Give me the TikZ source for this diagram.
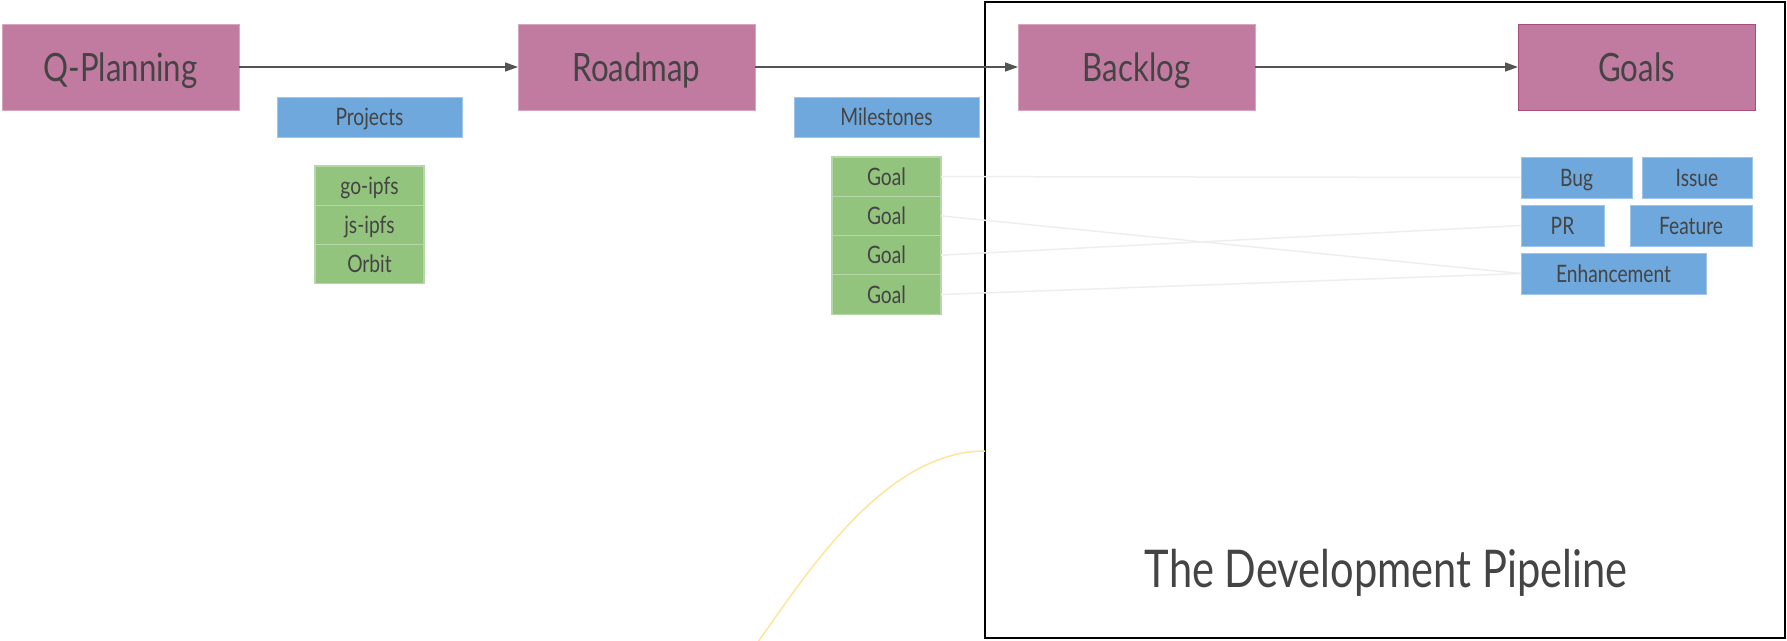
\documentclass[tikz,border=0pt]{standalone}
\usepackage{fontspec}
\setmainfont{Lato}[FakeStretch=0.8]
\usepackage{xcolor}
\usetikzlibrary{positioning, arrows.meta}

\definecolor{stagefill}{HTML}{C27BA0}
\definecolor{stageline}{HTML}{D5A6BD}
\definecolor{goalsline}{HTML}{A64D79}
\definecolor{tagfill}{HTML}{6FA8DC}
\definecolor{tagline}{HTML}{9FC5E8}
\definecolor{itemfill}{HTML}{93C47D}
\definecolor{itemline}{HTML}{B6D7A8}
\definecolor{labeltext}{HTML}{444444}
\definecolor{linkgray}{HTML}{EEEEEE}
\definecolor{curveyellow}{HTML}{FFE599}

\tikzset{
    stagebox/.style = {draw = stageline, fill = stagefill, line width = 1pt,
        minimum width = 237pt, minimum height = 86pt, inner sep = 0pt,
        outer sep = 0pt, text = labeltext, text height = 28pt,
        text depth = 0pt, font = \fontsize{39}{45}\selectfont},
    tagbox/.style = {draw = tagline, fill = tagfill, line width = 0.8pt,
        minimum height = 40pt, inner sep = 0pt, outer sep = 0pt,
        text = labeltext, text height = 17.5pt, text depth = 0pt,
        font = \fontsize{24}{28}\selectfont},
    itembox/.style = {draw = itemline, fill = itemfill, line width = 1.2pt,
        minimum width = 109pt, minimum height = 39.3pt, inner sep = 0pt,
        outer sep = 0pt, text = labeltext, text height = 17.5pt,
        text depth = 0pt, font = \fontsize{24}{28}\selectfont},
    flow/.style = {draw = black!67, line width = 1.5pt,
        -{Triangle[length = 13pt, width = 9pt]}},
    goallink/.style = {draw = linkgray, line width = 1.5pt},
}

\begin{document}
\begin{tikzpicture}[x = 1pt, y = -1pt]
    \useasboundingbox (0,0) rectangle (1787,640);
    % pipeline frame
    \node (pipeline) [draw, line width = 2pt, minimum width = 800pt,
    minimum height = 636pt, inner sep = 0pt, outer sep = 0pt,
    anchor = north west] at (985,2) {};
    \node (title) [anchor = base, text = labeltext,
    font = \fontsize{52}{60}\selectfont] at (1386,587)
    {The Development Pipeline};
    \coordinate (curvestart) at (752,650);
    \coordinate (curveend) at (985,451);
    \draw [curveyellow, line width = 1.5pt] (curvestart) .. controls
    (800,585) and (880,451) .. (curveend);

    % stages
    \node (qplan) [stagebox] at (120.5,67) {Q-Planning};
    \node (roadmap) [stagebox] at (636.5,67) {Roadmap};
    \node (backlog) [stagebox] at (1136.5,67) {Backlog};
    \node (goals) [stagebox, draw = goalsline] at (1636.5,67) {Goals};
    \draw [flow] (qplan) -- (roadmap);
    \draw [flow] (roadmap) -- (backlog);
    \draw [flow] (backlog) -- (goals);

    % projects
    \node (projects) [tagbox, minimum width = 185pt] at (369.5,117)
    {Projects};
    \node (goipfs) [itembox] at (369.5,185.6) {go-ipfs};
    \node (jsipfs) [itembox, below = 0pt of goipfs] {js-ipfs};
    \node (orbit) [itembox, below = 0pt of jsipfs] {Orbit};

    % milestones
    \node (milestones) [tagbox, minimum width = 185pt] at (886.5,117)
    {Milestones};
    \node (goal1) [itembox] at (886.5,176.6) {Goal};
    \node (goal2) [itembox, below = 0pt of goal1] {Goal};
    \node (goal3) [itembox, below = 0pt of goal2] {Goal};
    \node (goal4) [itembox, below = 0pt of goal3] {Goal};

    % issue types
    \node (bug) [tagbox, minimum width = 111pt, minimum height = 41pt]
    at (1576.5,177.5) {Bug};
    \node (issue) [tagbox, minimum width = 110pt, minimum height = 41pt]
    at (1697,177.5) {Issue};
    \node (pr) [tagbox, minimum width = 83pt, minimum height = 41pt]
    at (1562.5,225.5) {PR};
    \node (feature) [tagbox, minimum width = 122pt, minimum height = 41pt]
    at (1691,225.5) {Feature};
    \node (enhancement) [tagbox, minimum width = 185pt, minimum height = 41pt]
    at (1613.5,273.5) {Enhancement};

    \draw [goallink] (goal1.east) -- (bug.west);
    \draw [goallink] (goal2.east) -- (enhancement.west);
    \draw [goallink] (goal3.east) -- (pr.west);
    \draw [goallink] (goal4.east) -- (enhancement.west);
\end{tikzpicture}
\end{document}
